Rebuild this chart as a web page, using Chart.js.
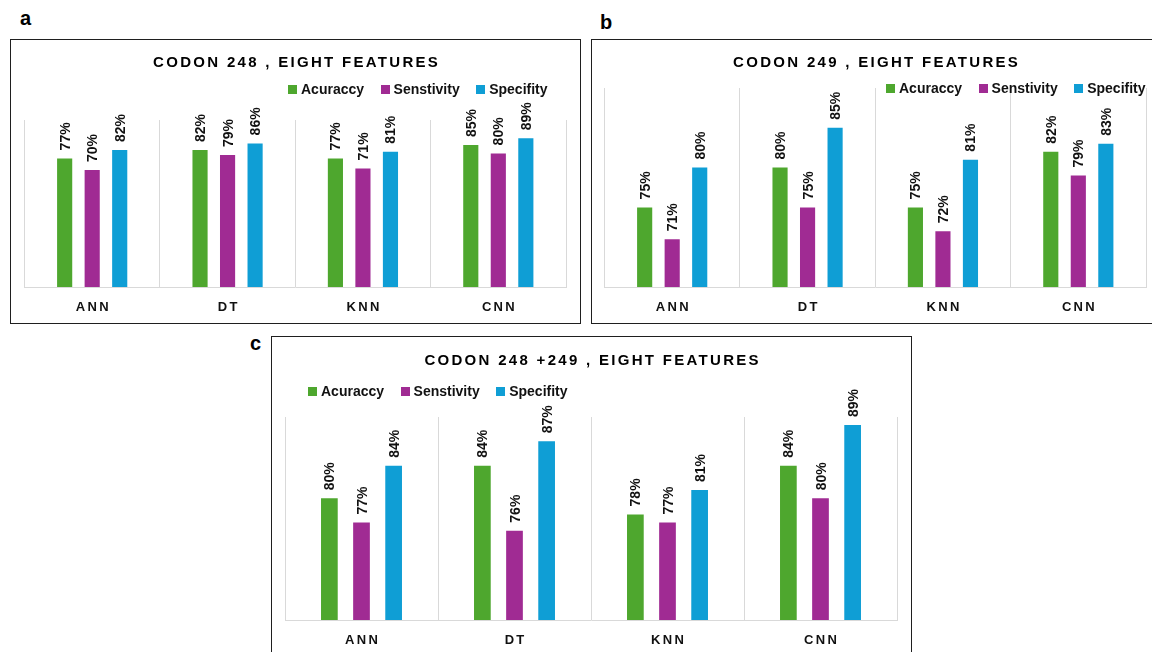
<!DOCTYPE html>
<html>
<head>
<meta charset="utf-8">
<title>Codon 248 / 249 classifier performance</title>
<script src="https://cdn.jsdelivr.net/npm/chart.js@4.4.1/dist/chart.umd.min.js"></script>
<style>
  html, body { margin: 0; padding: 0; background: #fff; }
  body {
    width: 1152px; height: 652px; overflow: hidden; position: relative;
    font-family: "Liberation Sans", Arial, Helvetica, sans-serif; color: #111;
  }
  .box { position: absolute; box-sizing: border-box; border: 1px solid #1f1f1f; background: #fff; }
  canvas { position: absolute; }
  .tag { position: absolute; font-size: 20px; line-height: 20px; font-weight: bold; color: #000; }
  .title {
    position: absolute; text-align: center; font-size: 15px; line-height: 15px;
    font-weight: bold; letter-spacing: 2.3px; padding-left: 2.3px; box-sizing: border-box; color: #000;
  }
  .legend {
    position: absolute; white-space: nowrap; font-size: 14px; line-height: 14px;
    font-weight: bold; color: #111;
  }
  .legend .item { display: inline-block; margin-right: 16.5px; }
  .legend .swatch { display: inline-block; width: 9px; height: 9px; margin-right: 4px; vertical-align: baseline; }
</style>
</head>
<body>

<div class="tag" style="left:20px; top:8px;">a</div>
<div class="tag" style="left:600px; top:12px;">b</div>
<div class="tag" style="left:250px; top:333px;">c</div>

<div class="box" style="left:10px; top:39px; width:571px; height:285px;"></div>
<div class="box" style="left:591px; top:39px; width:569px; height:285px;"></div>
<div class="box" style="left:271px; top:336px; width:641px; height:322px;"></div>

<canvas id="chartA" width="571" height="285" style="left:10px; top:39px;"></canvas>
<canvas id="chartB" width="569" height="285" style="left:591px; top:39px;"></canvas>
<canvas id="chartC" width="641" height="322" style="left:271px; top:336px;"></canvas>

<div class="title" style="left:10px; top:53.5px; width:571px;">CODON 248 , EIGHT FEATURES</div>
<div class="title" style="left:591px; top:53.5px; width:569px;">CODON 249 , EIGHT FEATURES</div>
<div class="title" style="left:271px; top:351.5px; width:641px;">CODON 248 +249 , EIGHT FEATURES</div>

<div class="legend" id="legendA" style="left:288px; top:81.5px;"></div>
<div class="legend" id="legendB" style="left:886px; top:81px;"></div>
<div class="legend" id="legendC" style="left:308px; top:384px;"></div>

<script>
// Classifiers on the x axis
const categories = ['ANN', 'DT', 'KNN', 'CNN'];

// Metric names as printed in the legend, and their colours
const seriesNames = ['Acuraccy', 'Senstivity', 'Specifity'];
const seriesColors = ['#4EA72E', '#A02B93', '#0F9ED5'];

// Codon 248, eight features (%)
const accuracy248    = [77, 82, 77, 85];
const sensitivity248 = [70, 79, 71, 80];
const specificity248 = [82, 86, 81, 89];

// Codon 249, eight features (%)
const accuracy249    = [75, 80, 75, 82];
const sensitivity249 = [71, 75, 72, 79];
const specificity249 = [80, 85, 81, 83];

// Codon 248 + 249, eight features (%)
const accuracyBoth    = [80, 84, 78, 84];
const sensitivityBoth = [77, 76, 77, 80];
const specificityBoth = [84, 87, 81, 89];

// Value-axis ranges (%)
const range248  = [0, 100];
const range249  = [65, 90];
const rangeBoth = [65, 90];

const FONT = '"Liberation Sans", Arial, Helvetica, sans-serif';
Chart.defaults.font.family = FONT;

// Rotated percentage labels above each bar
const valueLabels = {
  id: 'valueLabels',
  afterDatasetsDraw(chart) {
    const ctx = chart.ctx;
    ctx.save();
    ctx.font = 'bold 14px ' + FONT;
    ctx.fillStyle = '#111';
    ctx.textAlign = 'left';
    ctx.textBaseline = 'alphabetic';
    chart.data.datasets.forEach((ds, di) => {
      chart.getDatasetMeta(di).data.forEach((bar, i) => {
        ctx.save();
        ctx.translate(bar.x + 5, bar.y - 8);
        ctx.rotate(-Math.PI / 2);
        ctx.fillText(ds.data[i] + '%', 0, 0);
        ctx.restore();
      });
    });
    ctx.restore();
  }
};

// Letter-spaced category labels on the x axis
const spacedTicks = {
  id: 'spacedTicks',
  beforeDraw(chart) {
    const xs = chart.scales.x;
    if (xs.__spaced) return;
    const orig = xs.drawLabels;
    xs.drawLabels = function (area) {
      const c = this.ctx;
      c.save();
      c.letterSpacing = '2.3px';
      c.translate(1.15, 0);
      orig.call(this, area);
      c.restore();
    };
    xs.__spaced = true;
  }
};

function buildLegend(id) {
  const el = document.getElementById(id);
  el.innerHTML = seriesNames.map((n, i) =>
    '<span class="item"><span class="swatch" style="background:' + seriesColors[i] + '"></span>' + n + '</span>'
  ).join('');
}

function makeChart(id, values, range, padding, axisHeight, cat, bar) {
  return new Chart(document.getElementById(id), {
    type: 'bar',
    data: {
      labels: categories,
      datasets: seriesNames.map((name, i) => ({
        label: name,
        data: values[i],
        backgroundColor: seriesColors[i],
        borderWidth: 0,
        categoryPercentage: cat,
        barPercentage: bar
      }))
    },
    options: {
      responsive: false,
      animation: false,
      devicePixelRatio: 1,
      layout: { padding: padding },
      plugins: {
        legend: { display: false },
        title: { display: false },
        tooltip: { enabled: false }
      },
      scales: {
        x: {
          offset: true,
          grid: { color: '#d9d9d9', lineWidth: 1, drawTicks: false, offset: true },
          border: { color: '#d9d9d9', width: 1 },
          ticks: { color: '#111', font: { size: 13, weight: 'bold' }, padding: 12.5 },
          afterFit(scale) { scale.height = axisHeight; }
        },
        y: { display: false, min: range[0], max: range[1] }
      }
    },
    plugins: [spacedTicks, valueLabels]
  });
}

buildLegend('legendA');
buildLegend('legendB');
buildLegend('legendC');

makeChart('chartA', [accuracy248, sensitivity248, specificity248], range248,
  { left: 14.5, right: 15, top: 81, bottom: 0 }, 37, 0.61, 0.55);
makeChart('chartB', [accuracy249, sensitivity249, specificity249], range249,
  { left: 13.5, right: 14, top: 49, bottom: 0 }, 37, 0.61, 0.55);
makeChart('chartC', [accuracyBoth, sensitivityBoth, specificityBoth], rangeBoth,
  { left: 14, right: 15, top: 81, bottom: 0 }, 38, 0.63, 0.52);
</script>
</body>
</html>
